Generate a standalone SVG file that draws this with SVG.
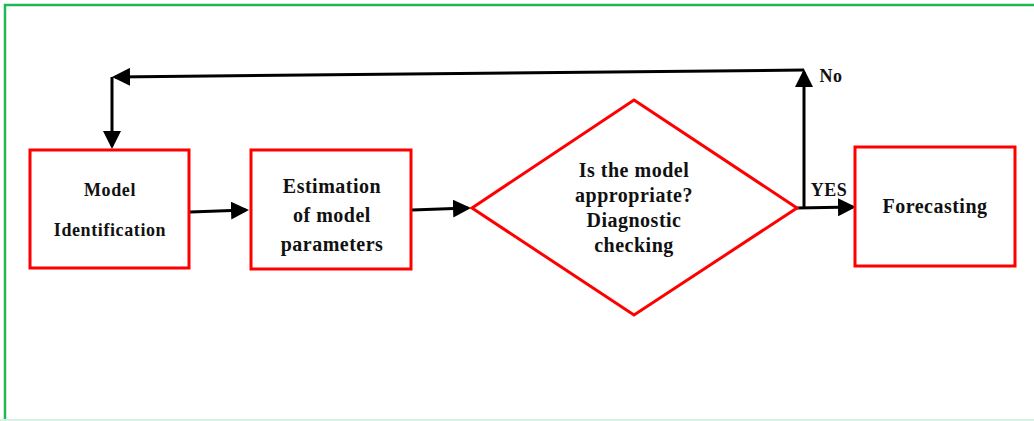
<svg xmlns="http://www.w3.org/2000/svg" width="1034" height="421" viewBox="0 0 1034 421">
<style>
.box{fill:#fff;stroke:#ff0000;stroke-width:3}
.lbl{font-family:"Liberation Serif","Times New Roman",serif;font-weight:bold;fill:#111;text-anchor:middle}
.ln{fill:none;stroke:#000;stroke-width:3}
</style>
<defs>
<marker id="ah" markerWidth="6" markerHeight="6" refX="5" refY="3" orient="auto" markerUnits="strokeWidth">
<path d="M0,0 L6,3 L0,6 Z" fill="#000"/>
</marker>
</defs>
<rect width="1034" height="421" fill="#fff"/>
<path d="M5,421 L5,5 L1034,5" fill="none" stroke="#1db954" stroke-width="2.5"/>
<line x1="0" y1="420" x2="1034" y2="420" stroke="#d6f2e6" stroke-width="2"/>
<g id="connectors">
<line class="ln" x1="190" y1="212" x2="246" y2="210" marker-end="url(#ah)"/>
<line class="ln" x1="412" y1="210" x2="468" y2="208" marker-end="url(#ah)"/>
<line class="ln" x1="797" y1="208" x2="853" y2="207" marker-end="url(#ah)"/>
<line class="ln" x1="804" y1="208" x2="804" y2="72" marker-end="url(#ah)"/>
<line class="ln" x1="804" y1="70" x2="115" y2="77" marker-end="url(#ah)"/>
<line class="ln" x1="112" y1="77" x2="112" y2="146" marker-end="url(#ah)"/>
<text class="lbl" x="831" y="82" font-size="18" letter-spacing="0.5">No</text>
<text class="lbl" x="829" y="196" font-size="18" letter-spacing="0.5">YES</text>
</g>
<g id="model-identification">
<rect class="box" x="30" y="150" width="159" height="118"/>
<text class="lbl" x="110" y="196" font-size="18" letter-spacing="0.6">Model</text>
<text class="lbl" x="110" y="236" font-size="18" letter-spacing="0.6">Identification</text>
</g>
<g id="estimation">
<rect class="box" x="251" y="150" width="160" height="119"/>
<text class="lbl" x="332" y="193" font-size="20" letter-spacing="0.5">Estimation</text>
<text class="lbl" x="332" y="222" font-size="20" letter-spacing="0.5">of model</text>
<text class="lbl" x="332" y="251" font-size="20" letter-spacing="0.5">parameters</text>
</g>
<g id="decision">
<polygon class="box" points="634,100 797,208 634,315 472,208"/>
<text class="lbl" x="634" y="177" font-size="20" letter-spacing="0.5">Is the model</text>
<text class="lbl" x="634" y="202" font-size="20" letter-spacing="0.5">appropriate?</text>
<text class="lbl" x="634" y="227" font-size="20" letter-spacing="0.5">Diagnostic</text>
<text class="lbl" x="634" y="252" font-size="20" letter-spacing="0.5">checking</text>
</g>
<g id="forecasting">
<rect class="box" x="855" y="147" width="160" height="119"/>
<text class="lbl" x="935" y="213" font-size="20" letter-spacing="0.5">Forecasting</text>
</g>
</svg>
